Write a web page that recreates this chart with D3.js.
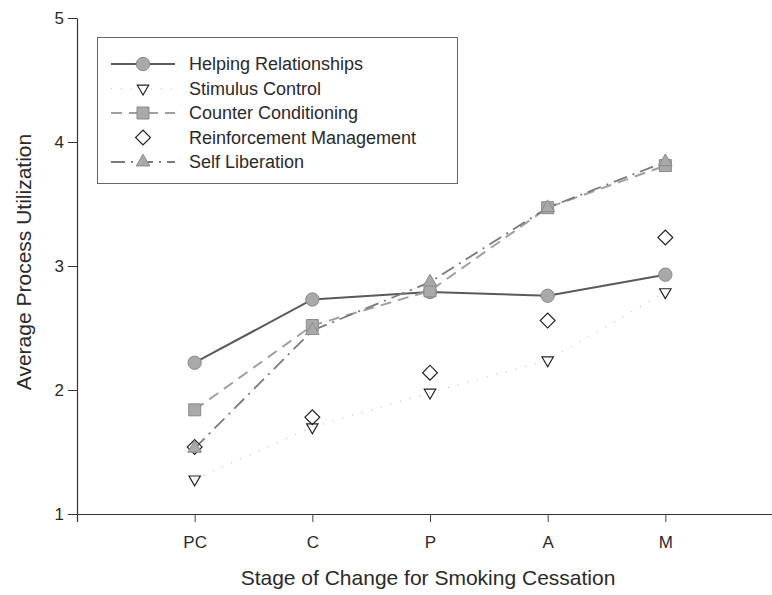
<!DOCTYPE html>
<html lang="en">
<head>
    <meta charset="UTF-8">
    <title>Process Utilization by Stage</title>
    <style>
        body {
            margin: 0;
            background: #fff;
        }

        svg text {
            font-family: 'Liberation Sans', Arial, sans-serif;
            fill: #2a2a2a;
        }
    </style>
</head>
<body>
    <script src="https://cdn.jsdelivr.net/npm/d3@7"></script>
    <script>
        const stages = ['PC', 'C', 'P', 'A', 'M']
        const yTicks = [1, 2, 3, 4, 5]

        const helping = [2.22, 2.73, 2.79, 2.76, 2.93]
        const stimulus = [1.28, 1.70, 1.98, 2.24, 2.79]
        const counter = [1.84, 2.52, 2.80, 3.47, 3.81]
        const reinforcement = [1.54, 1.78, 2.14, 2.56, 3.23]
        const selfLiberation = [1.53, 2.48, 2.87, 3.47, 3.84]

        const seriesNames = ['Helping Relationships', 'Stimulus Control', 'Counter Conditioning',
            'Reinforcement Management', 'Self Liberation']

        const width = 772
        const height = 595

        const svg = d3.select('body')
            .append('svg')
            .attr('width', width)
            .attr('height', height)

        // stage positions 1..5 on a 0..6 axis
        const x = d3.scaleLinear()
            .domain([0, stages.length + 1])
            .range([77, 783])
        const y = d3.scaleLinear()
            .domain([1, 5])
            .range([514, 18])

        // series styling
        const styles = [
            { data: helping, line: { stroke: '#5a5a5a', width: 2, dash: null }, symbol: 'circle' },
            { data: stimulus, line: { stroke: '#cccccc', width: 1.5, dash: '1,9' }, symbol: 'down' },
            { data: counter, line: { stroke: '#a0a0a0', width: 2, dash: '11,7' }, symbol: 'square' },
            { data: reinforcement, line: null, symbol: 'diamond' },
            { data: selfLiberation, line: { stroke: '#7a7a7a', width: 1.8, dash: '14,6,2,6' }, symbol: 'up' }
        ]

        function symbolPath(kind) {
            switch (kind) {
                case 'circle': return d3.symbol(d3.symbolCircle, 140)()
                case 'square': return d3.symbol(d3.symbolSquare, 144)()
                case 'up': return d3.symbol(d3.symbolTriangle, 80)()
                case 'down': return d3.symbol(d3.symbolTriangle, 56)()
                case 'diamond': return d3.symbol(d3.symbolSquare, 110)()
            }
        }

        function symbolRotate(kind) {
            if (kind === 'down') return 180
            if (kind === 'diamond') return 45
            return 0
        }

        function drawMarker(g, kind, cx, cy) {
            const open = kind === 'down' || kind === 'diamond'
            g.append('path')
                .attr('d', symbolPath(kind))
                .attr('transform', `translate(${cx},${cy}) rotate(${symbolRotate(kind)})`)
                .attr('fill', open ? 'none' : '#a9a9a9')
                .attr('stroke', open ? '#222' : '#8a8a8a')
                .attr('stroke-width', open ? 1.2 : 1)
        }

        // axes
        const yAxis = d3.axisLeft(y)
            .tickValues(yTicks)
            .tickFormat(d3.format('d'))
            .tickSize(9)
            .tickSizeOuter(0)
        const yg = svg.append('g')
            .attr('transform', `translate(${x(0)},0)`)
            .call(yAxis)
        yg.select('.domain').attr('stroke', '#333').attr('stroke-width', 1.2)
        yg.selectAll('.tick line').attr('stroke', '#333')
        yg.selectAll('.tick text')
            .attr('x', -13)
            .style('font-size', '17px')
            .style('font-family', "'Liberation Sans', Arial, sans-serif")
            .attr('fill', '#444')

        const xAxis = d3.axisBottom(x)
            .tickValues(d3.range(1, stages.length + 1))
            .tickFormat(d => stages[d - 1])
            .tickSize(8)
            .tickSizeOuter(8)
        const xg = svg.append('g')
            .attr('transform', `translate(0,${y(1)})`)
            .call(xAxis)
        xg.select('.domain').attr('stroke', '#333').attr('stroke-width', 1.2)
        xg.selectAll('.tick line').attr('stroke', '#444')
        xg.selectAll('.tick text')
            .attr('y', 22)
            .style('font-size', '17px')
            .style('font-family', "'Liberation Sans', Arial, sans-serif")
            .attr('fill', '#444')

        // axis titles
        svg.append('text')
            .attr('x', 428)
            .attr('y', 585)
            .attr('text-anchor', 'middle')
            .style('font-size', '21px')
            .text('Stage of Change for Smoking Cessation')

        svg.append('text')
            .attr('transform', 'translate(31,262) rotate(-90)')
            .attr('text-anchor', 'middle')
            .style('font-size', '21px')
            .text('Average Process Utilization')

        // lines
        const line = d3.line()
            .x((d, i) => x(i + 1))
            .y(d => y(d))

        const plot = svg.append('g')
        styles.forEach(s => {
            if (!s.line) return
            plot.append('path')
                .datum(s.data)
                .attr('fill', 'none')
                .attr('stroke', s.line.stroke)
                .attr('stroke-width', s.line.width)
                .attr('stroke-dasharray', s.line.dash)
                .attr('d', line)
        })

        // markers (diamonds under the filled ones)
        const order = [3, 1, 0, 2, 4]
        order.forEach(k => {
            const s = styles[k]
            s.data.forEach((v, i) => drawMarker(plot, s.symbol, x(i + 1), y(v)))
        })

        // legend
        const legend = svg.append('g')
        legend.append('rect')
            .attr('x', 97.5)
            .attr('y', 37.5)
            .attr('width', 360)
            .attr('height', 146)
            .attr('fill', '#fff')
            .attr('stroke', '#666')
            .attr('stroke-width', 1)

        seriesNames.forEach((name, i) => {
            const s = styles[i]
            const cy = 64 + i * 24.5
            if (s.line) {
                legend.append('line')
                    .attr('x1', 111)
                    .attr('x2', 175)
                    .attr('y1', cy)
                    .attr('y2', cy)
                    .attr('stroke', s.line.stroke)
                    .attr('stroke-width', s.line.width)
                    .attr('stroke-dasharray', s.line.dash)
            }
            drawMarker(legend, s.symbol, 143, cy)
            legend.append('text')
                .attr('x', 189)
                .attr('y', cy + 6)
                .style('font-size', '18px')
                .attr('fill', '#333')
                .text(name)
        })
    </script>
</body>
</html>
